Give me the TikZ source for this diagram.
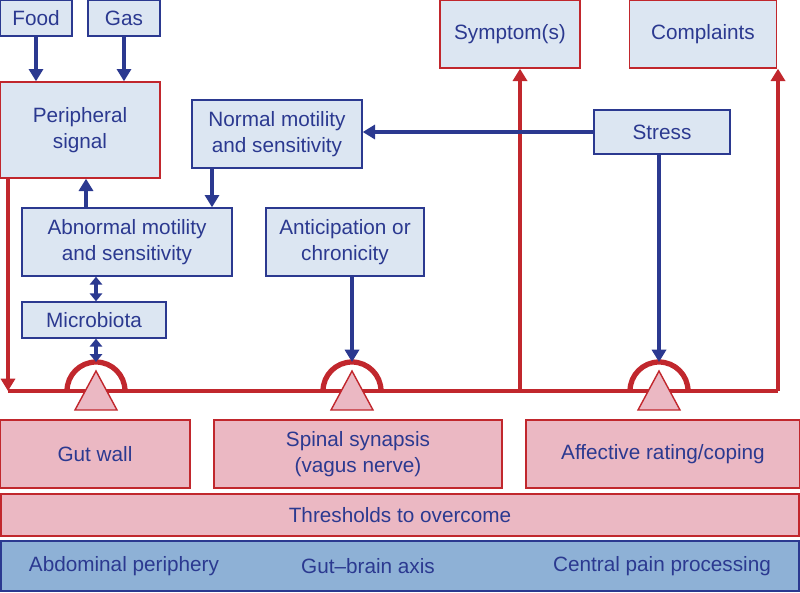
\documentclass[tikz,border=0pt]{standalone}
\usepackage{fontspec}
\setmainfont{Liberation Sans}
\usetikzlibrary{arrows.meta,positioning}
\definecolor{bfill}{HTML}{DCE6F2}
\definecolor{bline}{HTML}{2B3990}
\definecolor{rline}{HTML}{C1272D}
\definecolor{pfill}{HTML}{EBB8C3}
\definecolor{sfill}{HTML}{8EB1D6}
\begin{document}
\begin{tikzpicture}[x=0.02cm,y=-0.02cm,
  every node/.style={font=\fontsize{11.8}{14.5}\selectfont,text=bline,align=center,inner sep=0pt},
  bbox/.style={draw=bline,fill=bfill,line width=0.8pt},
  rbox/.style={draw=rline,fill=bfill,line width=0.8pt},
  pbox/.style={draw=rline,fill=pfill,line width=0.8pt},
  barrow/.style={draw=bline,line width=2.2pt,-{Triangle[length=7pt,width=8pt]}},
  rarrow/.style={draw=rline,line width=2.2pt,-{Triangle[length=7pt,width=8pt]}},
  dbarrow/.style={draw=bline,line width=2.2pt,{Triangle[length=4.5pt,width=7pt]}-{Triangle[length=4.5pt,width=7pt]}},
  pivot/.style={draw=rline,fill=pfill,line width=0.8pt}]
\useasboundingbox (0,0) rectangle (800,592);
% boxes
\node[bbox,minimum width=72*0.02cm,minimum height=36*0.02cm] (food) at (36,18) {Food};
\node[bbox,minimum width=72*0.02cm,minimum height=36*0.02cm] (gas) at (124,18) {Gas};
\node[rbox,minimum width=160*0.02cm,minimum height=96*0.02cm] (periph) at (80,130) {Peripheral\\signal};
\node[bbox,minimum width=170*0.02cm,minimum height=68*0.02cm] (normal) at (277,134) {Normal motility\\and sensitivity};
\node[bbox,minimum width=136*0.02cm,minimum height=44*0.02cm] (stress) at (662,132) {Stress};
\node[rbox,minimum width=140*0.02cm,minimum height=68*0.02cm] (symp) at (510,34) {Symptom(s)};
\node[rbox,minimum width=147*0.02cm,minimum height=68*0.02cm] (compl) at (703,34) {Complaints};
\node[bbox,minimum width=210*0.02cm,minimum height=68*0.02cm] (abn) at (127,242) {Abnormal motility\\and sensitivity};
\node[bbox,minimum width=158*0.02cm,minimum height=68*0.02cm] (antic) at (345,242) {Anticipation or\\chronicity};
\node[bbox,minimum width=144*0.02cm,minimum height=36*0.02cm] (micro) at (94,320) {Microbiota};
\node[pbox,minimum width=190*0.02cm,minimum height=68*0.02cm] (gut) at (95,454) {Gut wall};
\node[pbox,minimum width=288*0.02cm,minimum height=68*0.02cm] (spinal) at (358,454) {Spinal synapsis\\(vagus nerve)};
\node[pbox,minimum width=274*0.02cm,minimum height=68*0.02cm] (aff) at (663,454) {Affective rating/coping};
\node[pbox,minimum width=798*0.02cm,minimum height=42*0.02cm] (thr) at (400,515) {Thresholds to overcome};
\fill[sfill] (0,540) rectangle (800,592);
\draw[bline,line width=0.8pt] (1,541) rectangle (799,591);
\node (abd) at (124,566) {Abdominal periphery};
\node (axis) at (368,566) {Gut–brain axis};
\node (cpp) at (662,566) {Central pain processing};
% balance beam and pivots
\coordinate (beamL) at (8,391);
\coordinate (beamR) at (778,391);
\foreach \x/\n in {96/p1,352/p2,659/p3}{
  \draw[rline,line width=3pt] (\x-29,391) arc (180:360:29);
  \coordinate (\n) at (\x,362);
}
\draw[rline,line width=2.5pt] (8,391) -- (beamR);
\draw[rarrow] (periph.south west -| beamL) -- (beamL);
\foreach \x in {96,352,659}
  \draw[pivot] (\x,371) -- (\x+21,410) -- (\x-21,410) -- cycle;
% arrows
\draw[rarrow] (520,391) -- (symp.south -| 520,0);
\draw[rarrow] (beamR) -- (compl.south -| beamR);
\draw[barrow] (food) -- (food.south |- periph.north);
\draw[barrow] (gas) -- (gas.south |- periph.north);
\draw[barrow] (abn.north -| 86,0) -- (periph.south -| 86,0);
\draw[barrow] (normal.south -| 212,0) -- (abn.north -| 212,0);
\draw[dbarrow] (micro.north -| p1) -- (abn.south -| p1);
\draw[dbarrow] (micro.south -| p1) -- (p1);
\draw[barrow] (antic.south -| p2) -- (p2);
\draw[barrow] (stress.west) -- (normal.east |- stress.west);
\draw[barrow] (stress.south -| p3) -- (p3);
\end{tikzpicture}
\end{document}
